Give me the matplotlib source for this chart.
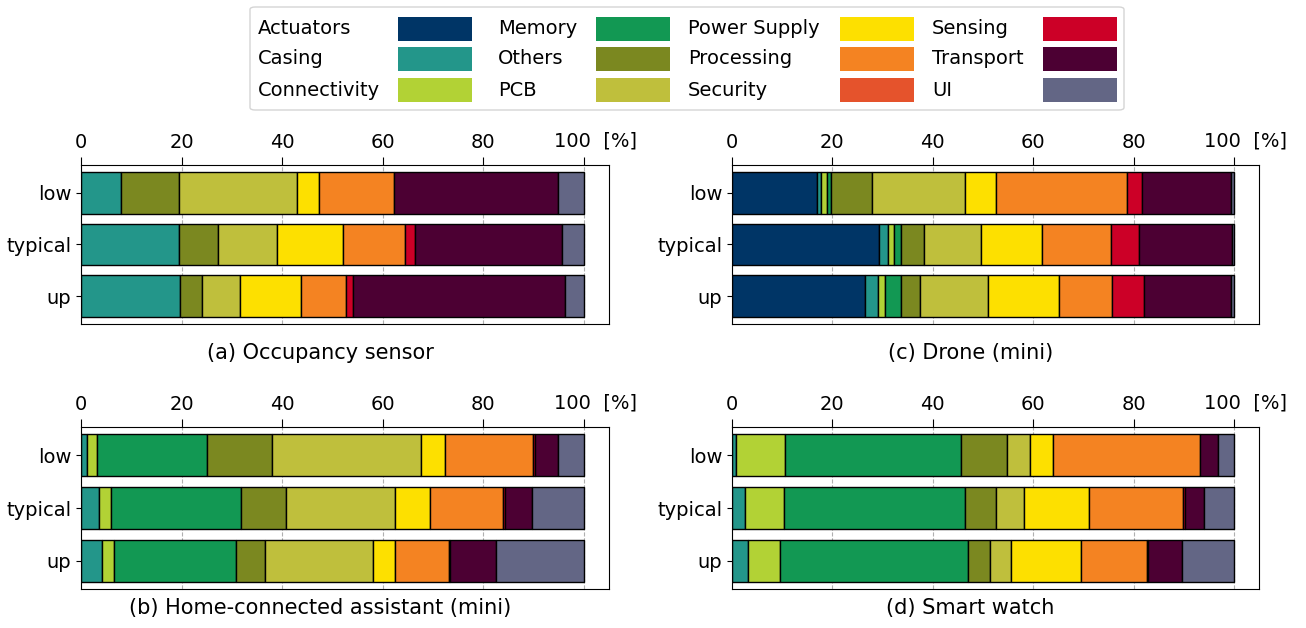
import matplotlib
matplotlib.use('Agg')
import matplotlib.pyplot as plt
from matplotlib.patches import Rectangle, FancyBboxPatch

components = ['Actuators', 'Casing', 'Connectivity', 'Memory', 'Others', 'PCB',
              'Power Supply', 'Processing', 'Security', 'Sensing', 'Transport', 'UI']
colours = ['#003566', '#23968a', '#b2d235', '#129853', '#7b8820', '#bfbf3c',
           '#fde000', '#f48322', '#e5532c', '#cc0027', '#4c0033', '#636685']
scenarios = ['low', 'typical', 'up']

# shares in % per component, same order as `components`
occupancy_low = [0, 8.0, 0, 0, 11.4, 23.6, 4.4, 14.9, 0, 0, 32.5, 5.2]
occupancy_typical = [0, 19.4, 0, 0, 7.8, 11.8, 13.2, 12.2, 0, 2.0, 29.3, 4.3]
occupancy_up = [0, 19.6, 0, 0, 4.5, 7.6, 12.0, 8.9, 0, 1.4, 42.3, 3.7]

assistant_low = [0, 1.1, 2.1, 21.8, 12.9, 29.7, 4.8, 17.5, 0, 0.4, 4.6, 5.1]
assistant_typical = [0, 3.6, 2.3, 26.0, 8.8, 21.8, 7.0, 14.4, 0, 0.4, 5.4, 10.3]
assistant_up = [0, 4.2, 2.3, 24.4, 5.6, 21.6, 4.4, 10.7, 0, 0.2, 9.2, 17.4]

drone_low = [17.0, 0.7, 1.3, 0.8, 8.1, 18.5, 6.1, 26.2, 0, 3.0, 17.8, 0.5]
drone_typical = [29.3, 1.8, 1.1, 1.5, 4.5, 11.4, 12.1, 13.8, 0, 5.5, 18.7, 0.3]
drone_up = [26.4, 2.7, 1.4, 3.2, 3.7, 13.6, 14.2, 10.6, 0, 6.3, 17.4, 0.5]

watch_low = [0, 0.8, 9.8, 35.0, 9.1, 4.6, 4.6, 29.4, 0, 0, 3.5, 3.2]
watch_typical = [0, 2.5, 7.9, 36.0, 6.1, 5.6, 13.1, 18.6, 0, 0.4, 3.9, 5.9]
watch_up = [0, 3.1, 6.5, 37.4, 4.4, 4.2, 13.9, 13.1, 0, 0.3, 6.7, 10.4]

xticks = [0, 20, 40, 60, 80, 100]
xticklabels = ['0', '20', '40', '60', '80', '']

panels = [
    ('(a) Occupancy sensor', [occupancy_low, occupancy_typical, occupancy_up]),
    ('(b) Home-connected assistant (mini)', [assistant_low, assistant_typical, assistant_up]),
    ('(c) Drone (mini)', [drone_low, drone_typical, drone_up]),
    ('(d) Smart watch', [watch_low, watch_typical, watch_up]),
]

W, H = 1306, 628
fig = plt.figure(figsize=(W / 100, H / 100), dpi=100)

# axes boxes in pixels: left, top, right, bottom
boxes = [(81, 165, 609, 324), (81, 427, 609, 589),
         (732, 165, 1259, 324), (732, 427, 1259, 589)]
caption_y = [353, 608, 353, 608]

for (title, rows), (l, t, r, b), cy in zip(panels, boxes, caption_y):
    ax = fig.add_axes([l / W, 1 - b / H, (r - l) / W, (b - t) / H])
    for i, row in enumerate(rows):
        left = 0
        for val, col in zip(row, colours):
            if val > 0:
                ax.barh(i, val, left=left, height=0.8, color=col,
                        edgecolor='black', linewidth=1, zorder=2)
            left += val
    ax.set_yticks(range(len(scenarios)))
    ax.set_yticklabels(scenarios)
    ax.invert_yaxis()
    ax.set_xlim(0, 105)
    ax.set_xticks(xticks)
    ax.set_xticklabels(xticklabels)
    ax.xaxis.tick_top()
    ax.tick_params(axis='x', length=6, labelsize=14)
    ax.tick_params(axis='y', labelsize=14)
    ax.set_axisbelow(True)
    ax.grid(axis='x', linestyle='--', color='#b0b0b0', linewidth=0.8)
    # last tick label carries the unit, pushed a bit to the right
    ax.annotate('100  [%]', xy=(xticks[-1], 1), xycoords=('data', 'axes fraction'),
                xytext=(11.5, 24), textcoords='offset pixels',
                ha='center', va='center', fontsize=14)
    fig.text(((l + r) / 2 - 25) / W, 1 - cy / H, title, ha='center',
             va='center', fontsize=15)

# legend drawn by hand: label on the left, colour box on the right
fig.patches.append(FancyBboxPatch((250 / W, 1 - 110 / H), 874 / W, 103 / H,
                                  boxstyle='round,pad=0,rounding_size=0.004',
                                  transform=fig.transFigure, facecolor='white',
                                  edgecolor='#d5d5d5', linewidth=1))
label_x = [258, 498, 688, 932]
patch_x = [398, 596, 840, 1043]
row_y = [29, 59, 90]
for k, (name, col) in enumerate(zip(components, colours)):
    c, rr = divmod(k, 3)
    fig.text(label_x[c] / W, 1 - row_y[rr] / H, name, ha='left', va='center',
             fontsize=14)
    fig.patches.append(Rectangle((patch_x[c] / W, 1 - (row_y[rr] + 12) / H),
                                 74 / W, 24 / H, transform=fig.transFigure,
                                 facecolor=col, edgecolor='none'))

fig.savefig('out.png', dpi=100)
